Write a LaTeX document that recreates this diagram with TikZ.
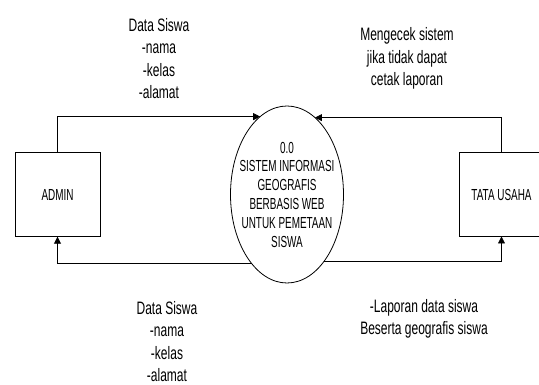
\documentclass[tikz,border=0pt]{standalone}
\usepackage{fontspec}
\usepackage{tikz}
\usetikzlibrary{arrows.meta, positioning, shapes.geometric}
\setmainfont{Liberation Sans}
\newfontfamily\labelfont{Liberation Sans}[FakeStretch=0.667]
\newfontfamily\boxfont{Liberation Sans}[FakeStretch=0.62]

\begin{document}
\begin{tikzpicture}[x=1pt, y=-1pt,
  entity/.style={draw, line width=0.8pt, minimum width=85pt, minimum height=84pt,
    inner sep=0pt, outer sep=0pt, font=\boxfont\fontsize{16}{19}\selectfont},
  proc/.style={draw, ellipse, line width=0.8pt, minimum width=113pt, minimum height=177pt,
    inner sep=0pt, outer sep=0pt},
  proctext/.style={align=center, inner sep=0pt, font=\boxfont\fontsize{16}{18.8}\selectfont},
  flowlabel/.style={align=center, inner sep=0pt, font=\labelfont\fontsize{18}{22.5}\selectfont},
  flow/.style={line width=0.8pt, -{Triangle[length=7pt, width=7pt]}}]
  \useasboundingbox (0,0) rectangle (539,385);
  \clip (0,0) rectangle (539,385);
  % Entities and process
  \node[entity] (admin) at (57.5,194.7) {ADMIN};
  \node[entity] (tata) at (501.5,194.5) {TATA USAHA};
  \node[proc] (proses) at (287,194.5) {};
  \node[proctext] (prosesteks) at (proses.center)
    {0.0\\SISTEM INFORMASI\\GEOGRAFIS\\BERBASIS WEB\\UNTUK PEMETAAN\\SISWA};
  % Data flows
  \draw[flow] (admin.north) |- (proses.109.4);
  \draw[flow] (tata.north) |- (proses.70.6);
  \draw[flow] (proses.243.7) -| (admin.south);
  \draw[flow] (proses.299.3) -| (tata.south);
  % Labels
  \node[flowlabel] (lblmasuk) at (159,58.5) {Data Siswa\\-nama\\-kelas\\-alamat};
  \node[flowlabel] (lblcek) at (407,58.5) {Mengecek sistem\\jika tidak dapat\\cetak laporan};
  \node[flowlabel] (lblkeluar) at (167,341.5) {Data Siswa\\-nama\\-kelas\\-alamat};
  \node[flowlabel] (lbllaporan) at (424,319) {-Laporan data siswa\\Beserta geografis siswa};
\end{tikzpicture}
\end{document}
